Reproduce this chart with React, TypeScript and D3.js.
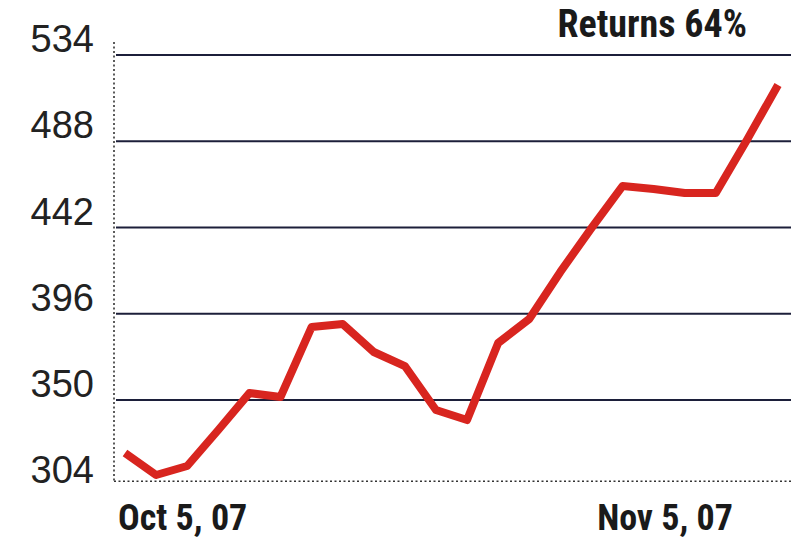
import React, { useEffect, useRef } from "react";
import * as d3 from "d3";

// price series, one value per trading day
const prices = [
  321.7, 310, 314.8, 334, 353.7, 351.6, 388.9, 390.5, 375.6, 368.1, 344.7,
  339.3, 380.4, 393.2, 418.3, 441.7, 464.1, 462.5, 460.4, 460.4, 488.7, 518,
];
const yTicks = [304, 350, 396, 442, 488, 534];
const dateLabels = ["Oct 5, 07", "Nov 5, 07"];
const title = "Returns 64%";

const W = 791;
const H = 538;

export default function App() {
  const ref = useRef<SVGSVGElement>(null);

  useEffect(() => {
    const svg = d3.select(ref.current);
    svg.selectAll("*").remove();

    const x = d3.scaleLinear().domain([0, prices.length - 1]).range([125, 778]);
    const y = d3.scaleLinear().domain([304, 534]).range([486.25, 55]);
    const floor = y(306.7); // dotted baseline sits a bit above the 304 tick

    // horizontal rules
    svg.append("g")
      .selectAll("line")
      .data(yTicks.filter((t) => t !== 304))
      .join("line")
      .attr("x1", 116)
      .attr("x2", W)
      .attr("y1", (d) => y(d))
      .attr("y2", (d) => y(d))
      .attr("stroke", "#1c1f3a")
      .attr("stroke-width", 2.2);

    // dotted axes
    svg.append("line")
      .attr("x1", 114).attr("x2", 114)
      .attr("y1", 42).attr("y2", floor)
      .attr("stroke", "#333")
      .attr("stroke-width", 1.6)
      .attr("stroke-dasharray", "2,2.5");
    svg.append("line")
      .attr("x1", 114).attr("x2", W)
      .attr("y1", floor).attr("y2", floor)
      .attr("stroke", "#333")
      .attr("stroke-width", 1.6)
      .attr("stroke-dasharray", "2,2.5");

    // tick labels, sitting above their rule
    svg.append("g")
      .selectAll("text")
      .data(yTicks)
      .join("text")
      .attr("x", 94)
      .attr("y", (d) => y(d) - 3)
      .attr("text-anchor", "end")
      .attr("font-family", "Liberation Sans, Arial, sans-serif")
      .attr("font-size", 38)
      .attr("fill", "#222")
      .text((d) => d);

    // price line
    const line = d3.line<number>()
      .x((_, i) => x(i))
      .y((d) => y(d));
    svg.append("path")
      .datum(prices)
      .attr("d", line)
      .attr("fill", "none")
      .attr("stroke", "#d8251f")
      .attr("stroke-width", 8)
      .attr("stroke-linejoin", "round")
      .attr("stroke-linecap", "butt");

    const bold = "Liberation Sans Narrow, Roboto Condensed, Arial Narrow, sans-serif";
    svg.append("text")
      .attr("x", x(0) - 7)
      .attr("y", 530)
      .attr("font-family", bold)
      .attr("font-weight", "bold")
      .attr("font-size", 36)
      .attr("fill", "#1a1a1a")
      .text(dateLabels[0]);
    svg.append("text")
      .attr("x", x(prices.length - 1) - 45)
      .attr("y", 530)
      .attr("text-anchor", "end")
      .attr("font-family", bold)
      .attr("font-weight", "bold")
      .attr("font-size", 36)
      .attr("fill", "#1a1a1a")
      .text(dateLabels[1]);
    svg.append("text")
      .attr("x", 747)
      .attr("y", 37)
      .attr("text-anchor", "end")
      .attr("font-family", bold)
      .attr("font-weight", "bold")
      .attr("font-size", 38)
      .attr("fill", "#1a1a1a")
      .text(title);
  }, []);

  return (
    <svg
      ref={ref}
      width={W}
      height={H}
      style={{ position: "absolute", left: 0, top: 0, background: "#fff" }}
    />
  );
}
